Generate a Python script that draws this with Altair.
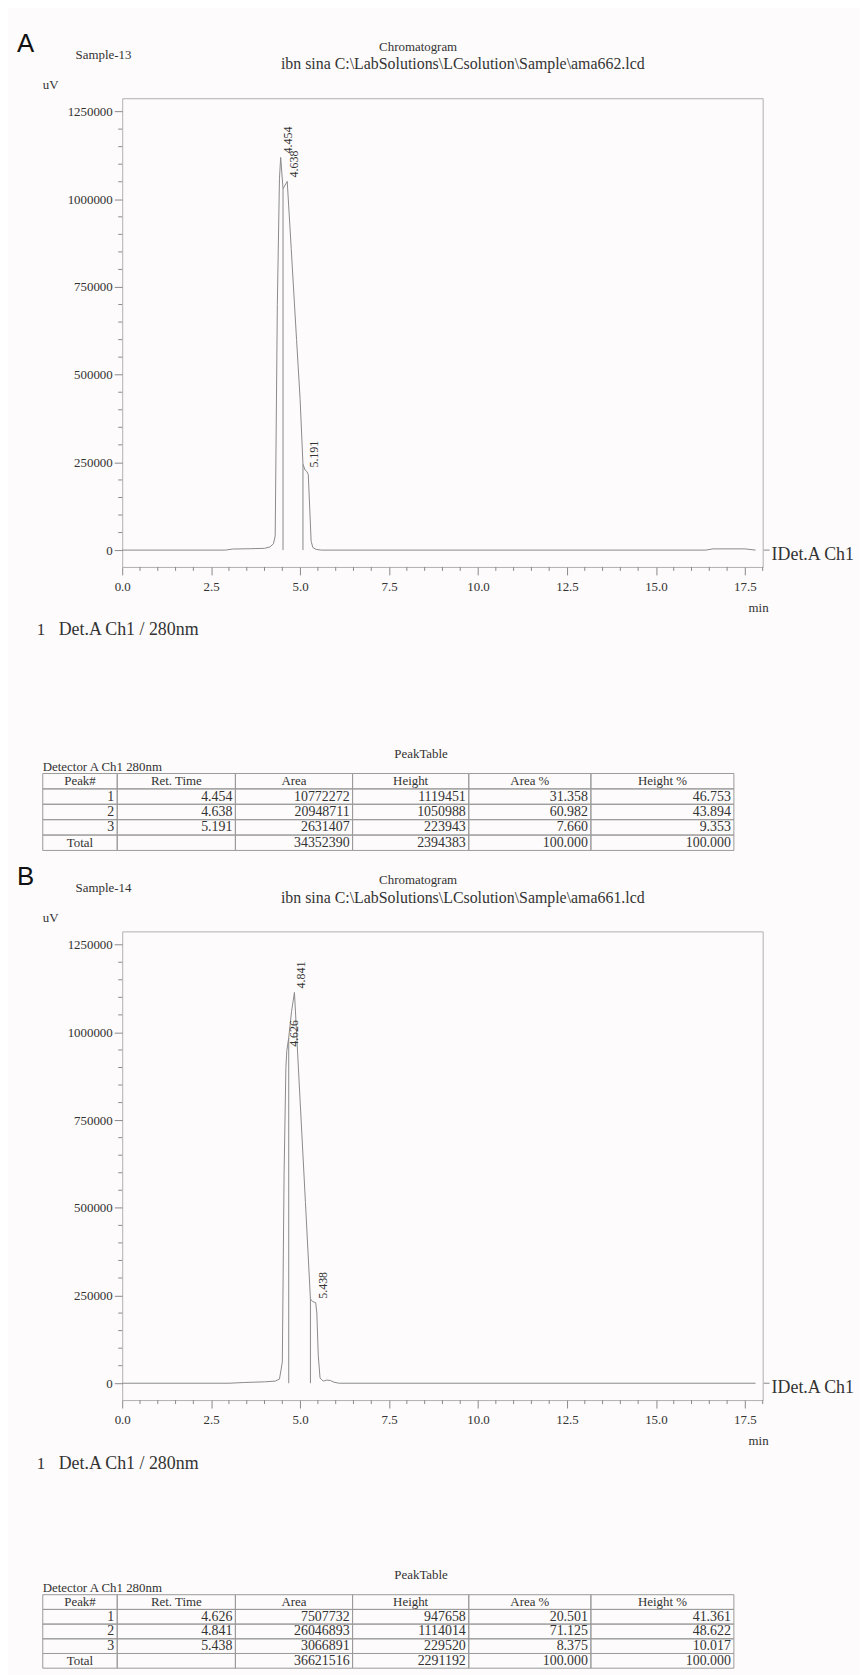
import altair as alt
import pandas as pd

# ----------------------------- data -----------------------------
# Sample-13 (panel A) detector trace (min, uV)
A_TIME = [0.0, 2.9, 3.1, 3.6, 4.0, 4.15, 4.25, 4.30, 4.36, 4.42, 4.454, 4.52,
          4.638, 4.75, 4.90, 5.00, 5.08, 5.14, 5.191, 5.23, 5.27, 5.31, 5.36,
          5.45, 5.60, 16.4, 16.6, 17.5, 17.8]
A_UV = [0, 0, 3000, 4000, 5000, 9000, 18000, 40000, 700000, 1060000, 1119451,
        1030000, 1050988, 860000, 600000, 430000, 245000, 228000, 223943, 215000,
        120000, 25000, 7000, 2000, 0, 0, 3500, 3500, 0]
A_DROP_TIME = [4.52, 5.08]
A_DROP_UV = [1030000, 245000]
A_RT = [4.454, 4.638, 5.191]
A_AREA = [10772272, 20948711, 2631407]
A_HEIGHT = [1119451, 1050988, 223943]
A_AREA_PCT = [31.358, 60.982, 7.660]
A_HEIGHT_PCT = [46.753, 43.894, 9.353]
A_TOTAL_AREA = 34352390
A_TOTAL_HEIGHT = 2394383

# Sample-14 (panel B)
B_TIME = [0.0, 3.0, 3.4, 4.0, 4.3, 4.42, 4.50, 4.55, 4.60, 4.626, 4.68, 4.76,
          4.841, 4.90, 5.00, 5.15, 5.29, 5.35, 5.438, 5.47, 5.51, 5.56, 5.65,
          5.75, 5.85, 5.95, 6.1, 17.8]
B_UV = [0, 0, 2000, 4000, 6000, 12000, 60000, 600000, 900000, 947658, 985000,
        1060000, 1114014, 1000000, 805000, 515000, 240000, 233000, 229520,
        200000, 80000, 15000, 6000, 9000, 8000, 3000, 0, 0]
B_DROP_TIME = [4.68, 5.29]
B_DROP_UV = [985000, 240000]
B_RT = [4.626, 4.841, 5.438]
B_AREA = [7507732, 26046893, 3066891]
B_HEIGHT = [947658, 1114014, 229520]
B_AREA_PCT = [20.501, 71.125, 8.375]
B_HEIGHT_PCT = [41.361, 48.622, 10.017]
B_TOTAL_AREA = 36621516
B_TOTAL_HEIGHT = 2291192

TABLE_HEADERS = ["Peak#", "Ret. Time", "Area", "Height", "Area %", "Height %"]
X_TICKS = [0.0, 2.5, 5.0, 7.5, 10.0, 12.5, 15.0, 17.5]
Y_TICKS = [0, 250000, 500000, 750000, 1000000, 1250000]

# ----------------------------- layout / style -----------------------------
W, H = 645, 472
X_DOMAIN = [0, 18]
Y_DOMAIN = [-48000, 1288000]
SERIF = "Liberation Serif"
SANS = "Liberation Sans"
TEXT = "#333333"
LINE = "#8a8a8a"
FRAME = "#b0b0b0"
GRID = "#9a9a9a"
BG = "#fdfbfb"

COL_PX = [75, 119, 118, 117, 123, 144]      # column widths (layout units)
EDGES = [0]
for u in COL_PX:
    EDGES.append(EDGES[-1] + u)
TABLE_LEFT = -80                              # pixel offset of the grid, relative to plot origin
GAP = 81.5
TABLE_A = {"grid_top": 126.5, "row_h": 15.5}
TABLE_B = {"grid_top": 114.5, "row_h": 14.8}

X_MINOR = [i * 0.5 for i in range(1, 37) if i % 5 != 0]
Y_MINOR = [i * 50000 for i in range(1, 26) if i % 5 != 0]


def label(text, x, y, size=13, align="left", font=SERIF, color=TEXT):
    return alt.Chart(pd.DataFrame({"s": [text]})).mark_text(
        align=align, baseline="middle", font=font, fontSize=size, color=color
    ).encode(text="s:N", x=alt.value(x), y=alt.value(y))


def chromatogram(letter, sample, path, t, uv, rts, heights, drop_t, drop_uv):
    xs = alt.Scale(domain=X_DOMAIN, nice=False, zero=False)
    ys = alt.Scale(domain=Y_DOMAIN, nice=False, zero=False)
    xax = alt.Axis(values=X_TICKS, format=".1f", title=None, grid=False,
                   domain=False, tickSize=8, tickColor=LINE, labelFont=SERIF,
                   labelFontSize=13, labelColor=TEXT, labelPadding=6,
                   labelFlush=False)
    yax = alt.Axis(values=Y_TICKS, format="d", title=None, grid=False,
                   domain=False, tickSize=8, tickColor=LINE, labelFont=SERIF,
                   labelFontSize=13, labelColor=TEXT, labelPadding=2)

    def X(f):
        return alt.X(f, scale=xs, axis=xax)

    def Y(f):
        return alt.Y(f, scale=ys, axis=yax)

    trace = alt.Chart(pd.DataFrame({"t": t, "uv": uv})).mark_line(
        color=LINE, strokeWidth=1
    ).encode(x=X("t:Q"), y=Y("uv:Q"))

    drops = alt.Chart(pd.DataFrame({"t": drop_t, "uv": drop_uv, "z": [0] * len(drop_t)})).mark_rule(
        color=LINE, strokeWidth=1
    ).encode(x=X("t:Q"), y=Y("z:Q"), y2="uv:Q")

    peaks = alt.Chart(pd.DataFrame({"t": rts, "uv": heights, "s": [f"{r:.3f}" for r in rts]})).mark_text(
        angle=270, align="left", baseline="middle", dx=4, dy=7, font=SERIF,
        fontSize=12, color=TEXT
    ).encode(x=X("t:Q"), y=Y("uv:Q"), text="s:N")

    xm = alt.Chart(pd.DataFrame({"t": X_MINOR})).mark_rule(color=LINE).encode(
        x=X("t:Q"), y=alt.value(H), y2=alt.value(H + 4))
    ym = alt.Chart(pd.DataFrame({"v": Y_MINOR})).mark_rule(color=LINE).encode(
        y=Y("v:Q"), x=alt.value(-4), x2=alt.value(0))

    end_dash = alt.Chart(pd.DataFrame({"v": [0]})).mark_rule(color=LINE).encode(
        y=Y("v:Q"), x=alt.value(W + 1), x2=alt.value(W + 7))
    end_text = alt.Chart(pd.DataFrame({"v": [0], "s": ["IDet.A Ch1"]})).mark_text(
        align="left", baseline="middle", dy=5, font=SERIF, fontSize=18, color=TEXT
    ).encode(y=Y("v:Q"), x=alt.value(W + 9), text="s:N")

    texts = [
        label(letter, -106, -55, size=26, font=SANS, color="#111111"),
        label(sample, -47, -44),
        label("Chromatogram", 298, -52, align="center"),
        label(path, 343, -34, size=16, align="center"),
        label("uV", -80, -13),
        label("min", W + 6, 513, align="right"),
        label("1", -86, 536, size=17),
        label("Det.A Ch1 / 280nm", -64, 536, size=18),
    ]
    return alt.layer(trace, drops, peaks, xm, ym, end_dash, end_text, *texts).properties(
        width=W, height=H, view=alt.ViewBackground(stroke=FRAME, strokeWidth=1)
    )


def peak_table(layout, rts, areas, heights, area_pct, height_pct, total_area, total_height):
    grid_top, row_h = layout["grid_top"], layout["row_h"]
    rows = [TABLE_HEADERS]
    for i in range(len(rts)):
        rows.append([str(i + 1), f"{rts[i]:.3f}", str(areas[i]), str(heights[i]),
                     f"{area_pct[i]:.3f}", f"{height_pct[i]:.3f}"])
    rows.append(["Total", "", str(total_area), str(total_height), "100.000", "100.000"])
    cells = []
    for r, row in enumerate(rows):
        for c, s in enumerate(row):
            cells.append({"row": r, "x0": EDGES[c], "x1": EDGES[c + 1],
                          "xm": (EDGES[c] + EDGES[c + 1]) / 2, "s": s,
                          "center": bool(r == 0 or (r == len(rows) - 1 and c == 0))})
    df = pd.DataFrame(cells)
    view_h = grid_top + row_h * len(rows)
    xs = alt.Scale(domain=[0, EDGES[-1]], range=[TABLE_LEFT, TABLE_LEFT + EDGES[-1]])
    ys = alt.Scale(domain=list(range(len(rows))), range=[grid_top, view_h],
                   paddingInner=0, paddingOuter=0)
    base = alt.Chart(df)
    grid = base.mark_rect(fill="transparent", stroke=GRID, strokeWidth=1).encode(
        x=alt.X("x0:Q", scale=xs, axis=None), x2="x1:Q",
        y=alt.Y("row:O", scale=ys, axis=None))
    ctext = base.transform_filter("datum.center").mark_text(
        align="center", baseline="middle", font=SERIF, fontSize=13, color=TEXT
    ).encode(x=alt.X("xm:Q", scale=xs, axis=None), y=alt.Y("row:O", scale=ys, axis=None), text="s:N")
    rtext = base.transform_filter("!datum.center").mark_text(
        align="right", baseline="middle", dx=-3, font=SERIF, fontSize=14, color=TEXT
    ).encode(x=alt.X("x1:Q", scale=xs, axis=None), y=alt.Y("row:O", scale=ys, axis=None), text="s:N")
    texts = [
        label("PeakTable", 301, grid_top - 20, align="center"),
        label("Detector A Ch1 280nm", TABLE_LEFT, grid_top - 7),
    ]
    return alt.layer(grid, ctext, rtext, *texts).properties(width=W, height=view_h)


chart_a = chromatogram("A", "Sample-13", r"ibn sina C:\LabSolutions\LCsolution\Sample\ama662.lcd",
                       A_TIME, A_UV, A_RT, A_HEIGHT, A_DROP_TIME, A_DROP_UV)
table_a = peak_table(TABLE_A, A_RT, A_AREA, A_HEIGHT, A_AREA_PCT, A_HEIGHT_PCT,
                     A_TOTAL_AREA, A_TOTAL_HEIGHT)
chart_b = chromatogram("B", "Sample-14", r"ibn sina C:\LabSolutions\LCsolution\Sample\ama661.lcd",
                       B_TIME, B_UV, B_RT, B_HEIGHT, B_DROP_TIME, B_DROP_UV)
table_b = peak_table(TABLE_B, B_RT, B_AREA, B_HEIGHT, B_AREA_PCT, B_HEIGHT_PCT,
                     B_TOTAL_AREA, B_TOTAL_HEIGHT)

chart = alt.vconcat(chart_a, table_a, chart_b, table_b, spacing=GAP, bounds="flush").properties(
    padding={"left": 8, "top": 16, "right": 4, "bottom": 4},
    background=BG,
).configure_view(stroke="transparent")

chart.save("out.html", embed_options={"renderer": "svg", "actions": False})
